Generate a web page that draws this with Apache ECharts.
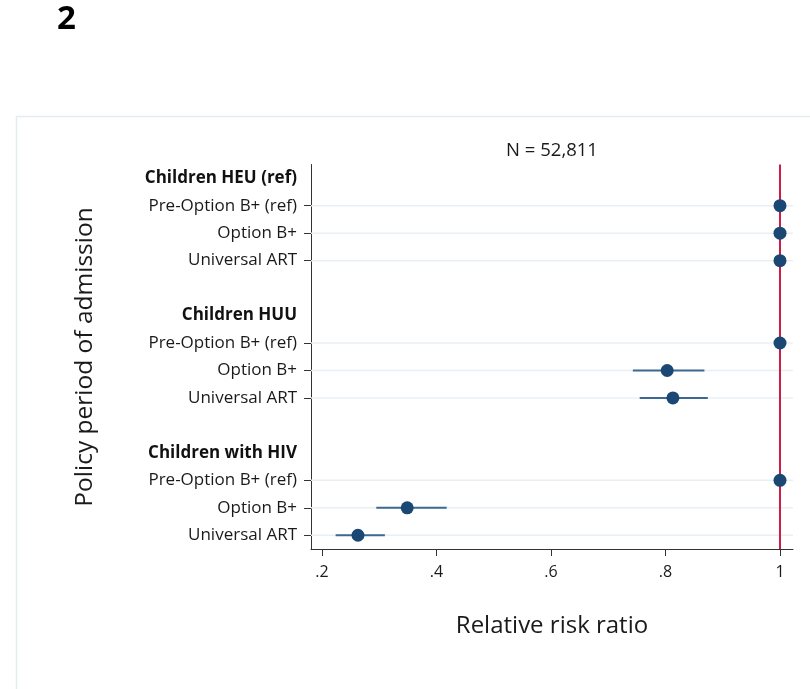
<!DOCTYPE html>
<html><head><meta charset="utf-8">
<script src="https://cdn.jsdelivr.net/npm/echarts@6/dist/echarts.min.js"></script>
<style>html,body{margin:0;padding:0;background:#fff}#c{width:810px;height:689px}</style>
</head><body><div id="c"></div>
<script>
// Row labels, top to bottom (blank rows separate the groups)
const rowLabels = ['Children HEU (ref)', 'Pre-Option B+ (ref)', 'Option B+', 'Universal ART', '',
  'Children HUU', 'Pre-Option B+ (ref)', 'Option B+', 'Universal ART', '',
  'Children with HIV', 'Pre-Option B+ (ref)', 'Option B+', 'Universal ART'];
const headerRows = [0, 5, 10];
const estRows = [1, 2, 3, 6, 7, 8, 11, 12, 13];
const labelRows = [0, 1, 2, 3, 5, 6, 7, 8, 10, 11, 12, 13];

// Estimates and 95% CI per row
const estimates = [1, 1, 1, 1, 0.803, 0.813, 1, 0.349, 0.263];
const ciLower   = [null, null, null, null, 0.743, 0.755, null, 0.295, 0.224];
const ciUpper   = [null, null, null, null, 0.868, 0.874, null, 0.418, 0.310];

const xTicks = [0.2, 0.4, 0.6, 0.8, 1];
const refValue = 1;
const sampleLabel = 'N = 52,811';

const X_MIN = 0.181, X_MAX = 1.0227;
const FONT = '"Open Sans", "Noto Sans", sans-serif';
const chart = echarts.init(document.getElementById('c'), null, {renderer: 'canvas'});

const pointData = estRows.map((r, i) => [estimates[i], r]);
const ciData = [];
estRows.forEach((r, i) => {
  if (ciLower[i] != null) ciData.push([ciLower[i], ciUpper[i], r]);
});
const gridData = estRows.map(r => [X_MIN, X_MAX, r]);

const hLine = (stroke, width) => (params, api) => {
  const a = api.coord([api.value(0), api.value(2)]);
  const b = api.coord([api.value(1), api.value(2)]);
  return {type: 'line', shape: {x1: a[0], y1: a[1], x2: b[0], y2: b[1]},
    style: {stroke: stroke, lineWidth: width}};
};

chart.setOption({
  animation: false,
  backgroundColor: '#fff',
  grid: {left: 311, top: 164.5, right: 17, bottom: 140, containLabel: false},
  xAxis: {
    type: 'value', min: X_MIN, max: X_MAX,
    axisLine: {show: true, onZero: false, lineStyle: {color: '#333', width: 1}},
    axisTick: {show: true, length: 7, lineStyle: {color: '#333'}, customValues: xTicks},
    axisLabel: {
      customValues: xTicks, margin: 15, color: '#1a1a1a', fontFamily: FONT, fontSize: 16,
      formatter: v => (v === 1 ? '1' : String(v).replace(/^0/, ''))
    },
    splitLine: {show: false},
    name: 'Relative risk ratio', nameLocation: 'middle', nameGap: 65,
    nameTextStyle: {fontFamily: FONT, fontSize: 24, color: '#1a1a1a'}
  },
  yAxis: {
    type: 'value', inverse: true, min: -0.5, max: 13.5,
    axisLine: {show: true, onZero: false, lineStyle: {color: '#333', width: 1}},
    axisTick: {show: true, length: 7, lineStyle: {color: '#333'}, customValues: estRows},
    axisLabel: {
      customValues: labelRows, margin: 14, color: '#1a1a1a', fontFamily: FONT, fontSize: 17,
      formatter: v => headerRows.indexOf(v) >= 0 ? '{h|' + rowLabels[v] + '}' : rowLabels[v],
      rich: {h: {fontWeight: 'bold', fontFamily: FONT, fontSize: 17, color: '#111'}}
    },
    splitLine: {show: false}
  },
  graphic: [
    {type: 'rect', shape: {x: 16.5, y: 116.5, width: 820, height: 600},
     style: {fill: 'none', stroke: '#e3edef', lineWidth: 1.5}, z: -1},
    {type: 'text', x: 57, y: 3, style: {text: '2', font: 'bold 33px ' + FONT, fill: '#000'}},
    {type: 'text', x: 552, y: 151, style: {text: sampleLabel, font: '18.5px ' + FONT, fill: '#1a1a1a',
      textAlign: 'center', textVerticalAlign: 'middle'}},
    {type: 'text', x: 85, y: 357, rotation: Math.PI / 2,
     style: {text: 'Policy period of admission', font: '24.5px ' + FONT, fill: '#1a1a1a',
      textAlign: 'center', textVerticalAlign: 'middle'}}
  ],
  series: [
    {
      // light horizontal guide lines at each estimate row
      type: 'custom', z: 1, silent: true, data: gridData, encode: {x: [0, 1], y: 2},
      renderItem: hLine('#e9f0f4', 1.5)
    },
    {
      type: 'custom', z: 2, silent: true, data: ciData, encode: {x: [0, 1], y: 2},
      renderItem: hLine('#3c6892', 2),
      markLine: {
        silent: true, symbol: 'none', label: {show: false},
        lineStyle: {color: '#cf1b46', width: 2, type: 'solid'},
        data: [{xAxis: refValue}]
      }
    },
    {
      type: 'scatter', z: 5, data: pointData, symbol: 'circle', symbolSize: 13,
      itemStyle: {color: '#1a4774', opacity: 1}
    }
  ]
});
</script>
</body></html>
